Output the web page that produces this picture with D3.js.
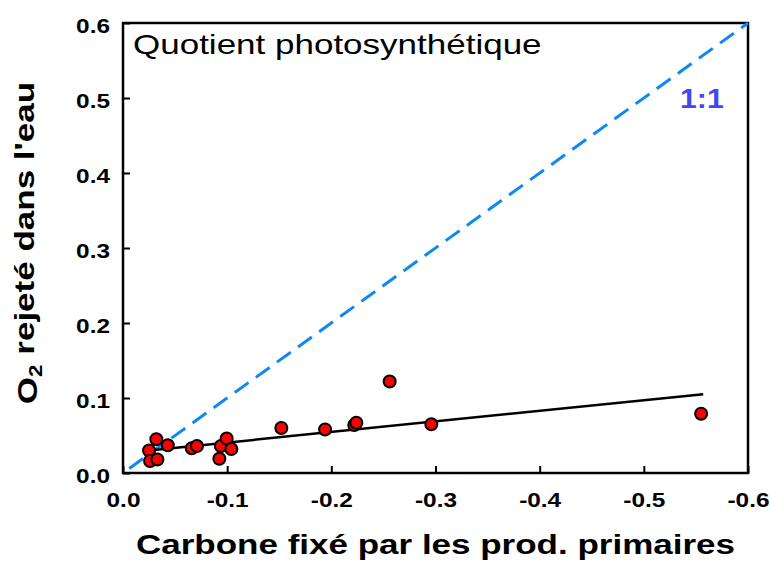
<!DOCTYPE html>
<html>
<head>
<meta charset="utf-8">
<script src="https://cdn.jsdelivr.net/npm/d3@7"></script>
<style>
  html, body { margin: 0; padding: 0; background: #fff; }
  svg { display: block; font-family: Arial, "Liberation Sans", sans-serif; }
</style>
</head>
<body>
<svg id="chart" width="770" height="567"></svg>
<script>
// Carbon fixed by primary producers (x) vs O2 released into the water (y)
const carbonFixed = [-0.025, -0.032, -0.043, -0.026, -0.033, -0.066, -0.071, -0.0925, -0.094,
                     -0.0995, -0.104, -0.152, -0.194, -0.222, -0.224, -0.256, -0.296, -0.555];
const o2Released  = [0.030, 0.045, 0.037, 0.016, 0.018, 0.033, 0.036, 0.019, 0.036,
                     0.046, 0.032, 0.060, 0.058, 0.064, 0.067, 0.122, 0.065, 0.079];

// Fitted regression line end points
const fitX = [-0.025, -0.557];
const fitY = [0.030, 0.105];

// 1:1 reference line end points
const oneToOneX = [-0.006, -0.6];
const oneToOneY = [0.006, 0.6];

const xTicks = [0, -0.1, -0.2, -0.3, -0.4, -0.5, -0.6];
const yTicks = [0, 0.1, 0.2, 0.3, 0.4, 0.5, 0.6];
const xTickLabels = ["0.0", "-0.1", "-0.2", "-0.3", "-0.4", "-0.5", "-0.6"];
const yTickLabels = ["0.0", "0.1", "0.2", "0.3", "0.4", "0.5", "0.6"];

const svg = d3.select("#chart");
const plotLeft = 123, plotRight = 748, plotTop = 23, plotBottom = 473;
const WIDE = 1.25;   // horizontal widening applied to all lettering

const x = d3.scaleLinear().domain([0, -0.6]).range([plotLeft, plotRight]);
const y = d3.scaleLinear().domain([0, 0.6]).range([plotBottom, plotTop]);

// Axes with inward ticks
const xAxis = d3.axisBottom(x).tickValues(xTicks)
  .tickFormat((d, i) => xTickLabels[i])
  .tickSizeInner(-7).tickSizeOuter(0);
const yAxis = d3.axisLeft(y).tickValues(yTicks)
  .tickFormat((d, i) => yTickLabels[i])
  .tickSizeInner(-7).tickSizeOuter(0);

const gx = svg.append("g").attr("transform", `translate(0,${plotBottom})`).call(xAxis);
const gy = svg.append("g").attr("transform", `translate(${plotLeft},0)`).call(yAxis);
[gx, gy].forEach(g => {
  g.select(".domain").remove();
  g.attr("font-family", null).attr("font-size", null);
  g.selectAll(".tick line").attr("stroke", "#000").attr("stroke-width", 2);
  g.selectAll(".tick text").attr("fill", "#000")
    .style("font-size", "20px").style("font-weight", "bold");
});
gx.selectAll(".tick text")
  .attr("x", 0).attr("y", 0).attr("dy", null)
  .attr("transform", `translate(0,34) scale(${WIDE - 0.03},1)`);
gy.selectAll(".tick text")
  .attr("x", 0).attr("y", 0).attr("dy", "0.36em")
  .attr("transform", `translate(-13,2) scale(${WIDE - 0.03},1)`);

// Frame
svg.append("rect")
  .attr("x", plotLeft).attr("y", plotTop)
  .attr("width", plotRight - plotLeft).attr("height", plotBottom - plotTop)
  .attr("fill", "none").attr("stroke", "#000").attr("stroke-width", 2.5);

// 1:1 dashed line
svg.append("line")
  .attr("x1", x(oneToOneX[0])).attr("y1", y(oneToOneY[0]))
  .attr("x2", x(oneToOneX[1])).attr("y2", y(oneToOneY[1]))
  .attr("stroke", "#0f88f2").attr("stroke-width", 3)
  .attr("stroke-dasharray", "17,9");

// Regression line
svg.append("line")
  .attr("x1", x(fitX[0])).attr("y1", y(fitY[0]))
  .attr("x2", x(fitX[1])).attr("y2", y(fitY[1]))
  .attr("stroke", "#000").attr("stroke-width", 2.5);

// Data points
svg.append("g").selectAll("circle")
  .data(d3.range(carbonFixed.length))
  .join("circle")
  .attr("cx", i => x(carbonFixed[i]))
  .attr("cy", i => y(o2Released[i]))
  .attr("r", 6)
  .attr("fill", "#ff0000")
  .attr("stroke", "#000")
  .attr("stroke-width", 2);

// Panel title
svg.append("text")
  .attr("transform", `translate(133,54) scale(${WIDE},1)`)
  .style("font-size", "28px")
  .attr("fill", "#000")
  .text("Quotient photosynthétique");

// 1:1 label
svg.append("text")
  .attr("transform", `translate(680,108) scale(1.12,1)`)
  .style("font-size", "27px").style("font-weight", "bold")
  .attr("fill", "#4646f0")
  .text("1:1");

// Axis titles
svg.append("text")
  .attr("transform", `translate(${(plotLeft + plotRight) / 2},554) scale(${WIDE},1)`)
  .attr("text-anchor", "middle")
  .style("font-size", "28px").style("font-weight", "bold")
  .attr("fill", "#000")
  .text("Carbone fixé par les prod. primaires");

const yTitle = svg.append("text")
  .attr("transform", `translate(37,243) rotate(-90) scale(${WIDE},1)`)
  .attr("text-anchor", "middle")
  .style("font-size", "28px").style("font-weight", "bold")
  .attr("fill", "#000");
yTitle.append("tspan").text("O");
yTitle.append("tspan").attr("dy", "0.3em").style("font-size", "18px").text("2");
yTitle.append("tspan").attr("dy", "-0.3em").text(" rejeté dans l'eau");
</script>
</body>
</html>
